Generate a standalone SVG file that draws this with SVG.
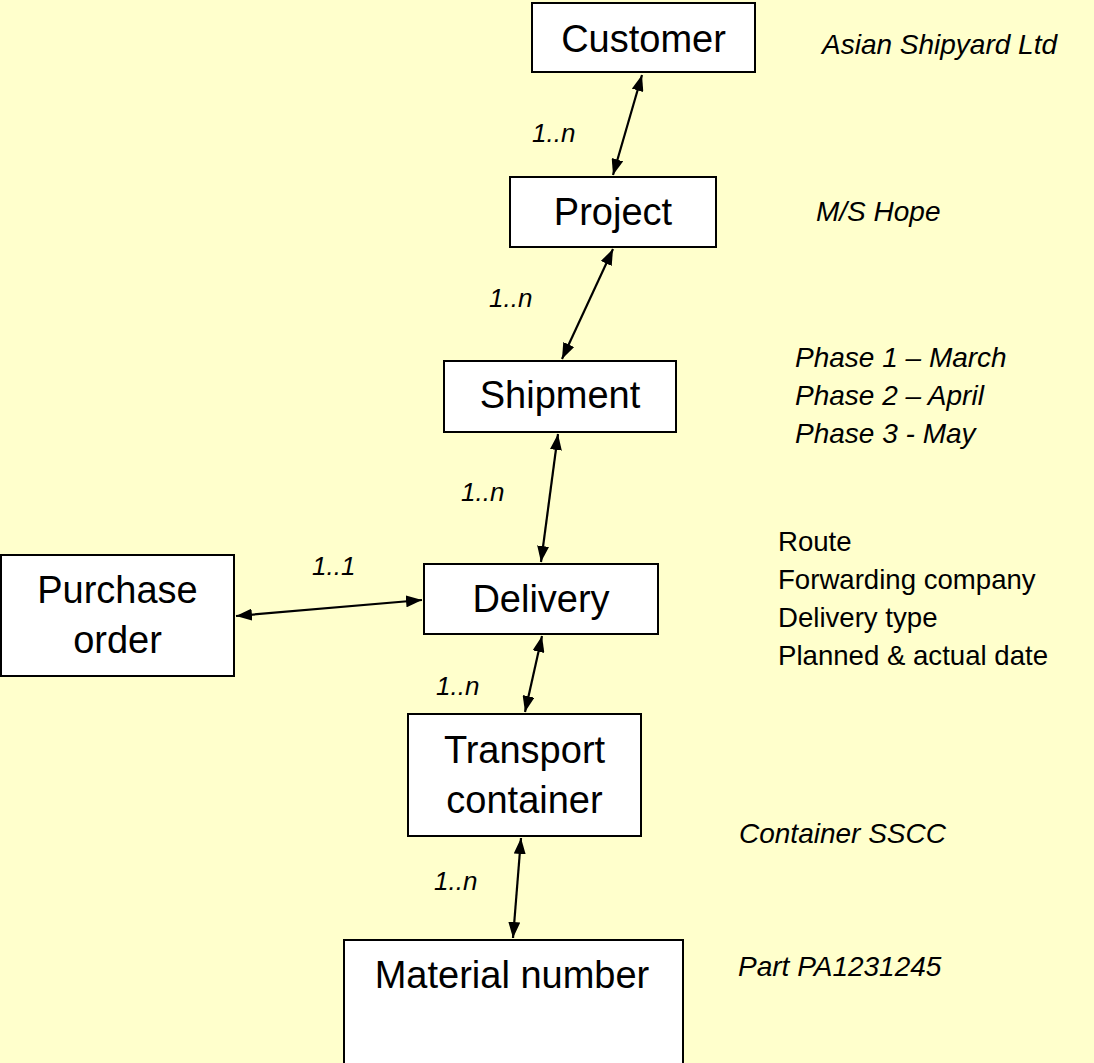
<svg xmlns="http://www.w3.org/2000/svg" width="1094" height="1063" viewBox="0 0 1094 1063">
  <style>
    .box { fill: #ffffff; stroke: #000000; stroke-width: 2; }
    .node-label { font-family: "Liberation Sans", Arial, sans-serif; font-size: 38px; fill: #000000; text-anchor: middle; }
    .card { font-family: "Liberation Sans", Arial, sans-serif; font-size: 26px; font-style: italic; fill: #000000; }
    .note-i { font-family: "Liberation Sans", Arial, sans-serif; font-size: 28px; font-style: italic; fill: #000000; }
    .note { font-family: "Liberation Sans", Arial, sans-serif; font-size: 27.6px; fill: #000000; }
    .link { stroke: #000000; stroke-width: 2.2; fill: none; marker-start: url(#head); marker-end: url(#head); }
  </style>
  <defs>
    <marker id="head" viewBox="0 0 16 12" refX="16" refY="6" markerWidth="16" markerHeight="12" markerUnits="userSpaceOnUse" orient="auto-start-reverse">
      <path d="M0,0 L16,6 L0,12 z" fill="#000000"/>
    </marker>
  </defs>

  <rect x="0" y="0" width="1094" height="1063" fill="#ffffcc"/>

  <!-- relationships between entities -->
  <g id="connectors">
    <line class="link" x1="642" y1="75" x2="613" y2="175"/>
    <line class="link" x1="613" y1="249" x2="562" y2="359"/>
    <line class="link" x1="558" y1="434" x2="541" y2="562"/>
    <line class="link" x1="236" y1="616" x2="422" y2="600"/>
    <line class="link" x1="542" y1="636" x2="525" y2="712"/>
    <line class="link" x1="521" y1="838" x2="513" y2="938"/>
  </g>

  <!-- cardinalities -->
  <g id="cardinalities">
    <text class="card" x="532" y="142">1..n</text>
    <text class="card" x="489" y="307">1..n</text>
    <text class="card" x="461" y="501">1..n</text>
    <text class="card" x="312" y="575">1..1</text>
    <text class="card" x="436" y="695">1..n</text>
    <text class="card" x="434" y="890">1..n</text>
  </g>

  <g id="customer">
    <rect class="box" x="532" y="3" width="223" height="69"/>
    <text class="node-label" x="643.5" y="52">Customer</text>
  </g>

  <g id="project">
    <rect class="box" x="510" y="177" width="206" height="70"/>
    <text class="node-label" x="613" y="225">Project</text>
  </g>

  <g id="shipment">
    <rect class="box" x="444" y="361" width="232" height="71"/>
    <text class="node-label" x="560" y="408">Shipment</text>
  </g>

  <g id="purchase-order">
    <rect class="box" x="1" y="555" width="233" height="121"/>
    <text class="node-label" x="117.5" y="603">Purchase</text>
    <text class="node-label" x="117.5" y="653">order</text>
  </g>

  <g id="delivery">
    <rect class="box" x="424" y="564" width="234" height="70"/>
    <text class="node-label" x="541" y="612">Delivery</text>
  </g>

  <g id="transport-container">
    <rect class="box" x="408" y="714" width="233" height="122"/>
    <text class="node-label" x="524.5" y="763">Transport</text>
    <text class="node-label" x="524.5" y="813">container</text>
  </g>

  <g id="material-number">
    <rect class="box" x="344" y="940" width="339" height="130"/>
    <text class="node-label" x="512" y="988">Material number</text>
  </g>

  <!-- example values -->
  <g id="annotations">
    <text class="note-i" x="822" y="54">Asian Shipyard Ltd</text>
    <text class="note-i" x="816" y="221">M/S Hope</text>
    <text class="note-i" x="795" y="367">Phase 1 – March</text>
    <text class="note-i" x="795" y="405">Phase 2 – April</text>
    <text class="note-i" x="795" y="443">Phase 3 - May</text>
    <text class="note" x="778" y="551">Route</text>
    <text class="note" x="778" y="589">Forwarding company</text>
    <text class="note" x="778" y="627">Delivery type</text>
    <text class="note" x="778" y="665">Planned &amp; actual date</text>
    <text class="note-i" x="739" y="843">Container SSCC</text>
    <text class="note-i" x="738" y="976">Part PA1231245</text>
  </g>
</svg>
